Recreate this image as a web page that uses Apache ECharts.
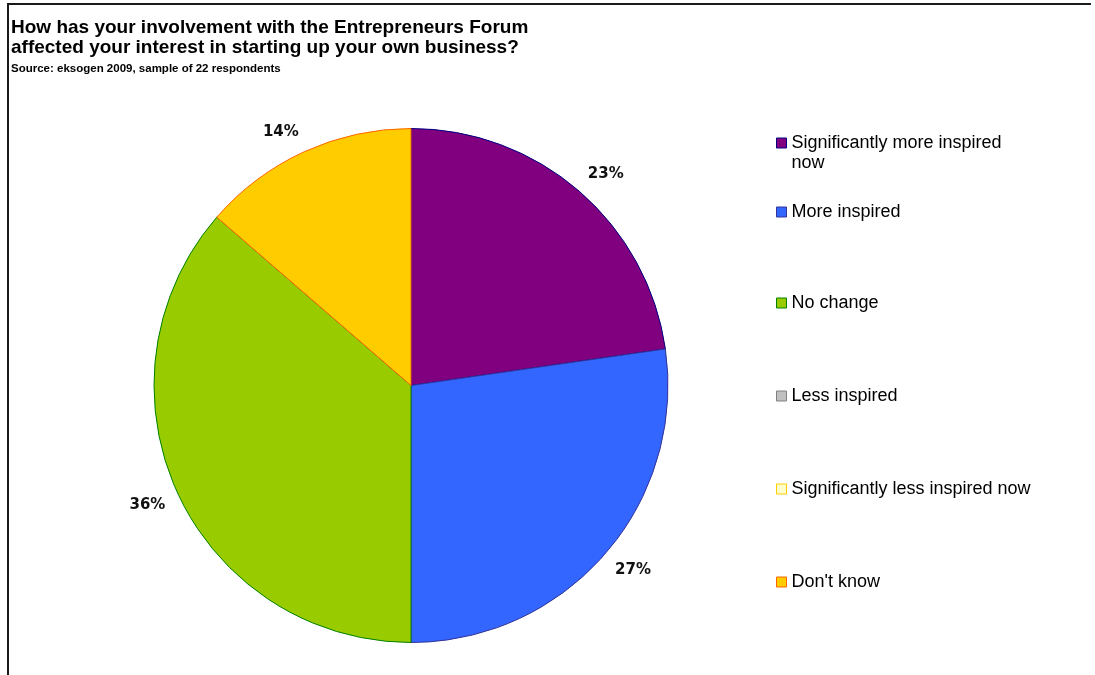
<!DOCTYPE html>
<html>
<head>
<meta charset="utf-8">
<script src="https://cdn.jsdelivr.net/npm/echarts@6/dist/echarts.min.js"></script>
<style>
  html, body { margin: 0; padding: 0; background: #ffffff; }
  #chart { width: 1095px; height: 675px; }
</style>
</head>
<body>
<div id="chart"></div>
<script>
// Survey answers (22 respondents)
const categories = [
  'Significantly more inspired now',
  'More inspired',
  'No change',
  'Less inspired',
  'Significantly less inspired now',
  "Don't know"
];
const respondents = [5, 6, 8, 0, 0, 3];

// Slice fills and outlines, in category order
const fillColors = ['#800080', '#3366FF', '#99CC00', '#C0C0C0', '#FFFFCC', '#FFCC00'];
const edgeColors = ['#000080', '#333399', '#008000', '#808080', '#FFCC00', '#FF6600'];

const titleText = 'How has your involvement with the Entrepreneurs Forum\naffected your interest in starting up your own business?';
const sourceText = 'Source: eksogen 2009, sample of 22 respondents';

const PIE_CENTER = [411, 385.5];
const PIE_RADIUS = 257;
const LABEL_RING = 270; // nearest corner of each percentage label sits on this ring

const chart = echarts.init(document.getElementById('chart'), null, { renderer: 'canvas' });

const total = respondents.reduce((a, b) => a + b, 0);
const before = respondents.map((v, i) => respondents.slice(0, i).reduce((a, b) => a + b, 0));

const sliceData = categories.map((name, i) => ({
  name,
  value: respondents[i],
  itemStyle: {
    color: fillColors[i],
    borderColor: edgeColors[i],
    borderWidth: respondents[i] > 0 ? 1 : 0
  },
  label: { show: respondents[i] > 0 }
}));

// Place each percentage label outward along its slice's mid angle,
// with the label's inner corner on LABEL_RING
function placeLabel(params) {
  const i = params.dataIndex;
  if (!respondents[i]) return {};
  const mid = (before[i] + respondents[i] / 2) / total * Math.PI * 2;
  const ux = Math.sin(mid);
  const uy = -Math.cos(mid);
  const w = params.labelRect.width;
  const h = params.labelRect.height;
  return {
    x: PIE_CENTER[0] + LABEL_RING * ux + Math.sign(ux) * w / 2,
    y: PIE_CENTER[1] + LABEL_RING * uy + Math.sign(uy) * h / 2,
    align: 'center',
    verticalAlign: 'middle'
  };
}

// Long first entry wraps under itself; the blank leading line keeps
// its first line level with the swatch
function legendText(name, i) {
  return i === 0 ? '\nSignificantly more inspired\nnow' : name;
}

// One legend block per answer so the rows keep their own spacing
const legendRowTops = [113, 202, 293, 386, 479, 572];
const legends = categories.map((name, i) => ({
  data: [name],
  orient: 'vertical',
  left: 776,
  top: legendRowTops[i],
  padding: 0,
  icon: 'rect',
  itemWidth: 10,
  itemHeight: 10,
  selectedMode: false,
  itemStyle: { borderWidth: 1 },
  formatter: n => legendText(n, i),
  textStyle: {
    fontFamily: '"Liberation Sans", Arial, sans-serif',
    fontSize: 18,
    lineHeight: 20,
    color: '#000000'
  }
}));

chart.setOption({
  animation: false,
  backgroundColor: '#ffffff',
  title: {
    text: titleText,
    subtext: sourceText,
    left: 11,
    top: 18,
    padding: 0,
    itemGap: 5,
    textStyle: {
      fontFamily: '"Liberation Sans", Arial, sans-serif',
      fontSize: 19,
      fontWeight: 'bold',
      lineHeight: 20,
      color: '#000000'
    },
    subtextStyle: {
      fontFamily: '"Liberation Sans", Arial, sans-serif',
      fontSize: 11.5,
      fontWeight: 'bold',
      lineHeight: 12,
      color: '#000000'
    }
  },
  legend: legends,
  graphic: [{
    type: 'polyline',
    silent: true,
    shape: { points: [[8, 675], [8, 4], [1091, 4]] },
    style: { stroke: '#1a1a1a', lineWidth: 2, fill: null }
  }],
  series: [{
    name: 'Interest',
    type: 'pie',
    center: PIE_CENTER,
    radius: PIE_RADIUS,
    startAngle: 90,
    clockwise: true,
    avoidLabelOverlap: false,
    silent: true,
    label: {
      position: 'outside',
      formatter: p => Math.round(p.percent) + '%',
      fontFamily: '"DejaVu Sans", Verdana, sans-serif',
      fontWeight: 'bold',
      fontSize: 15,
      color: '#111111'
    },
    labelLine: { show: false },
    labelLayout: placeLabel,
    data: sliceData
  }]
});
</script>
</body>
</html>
